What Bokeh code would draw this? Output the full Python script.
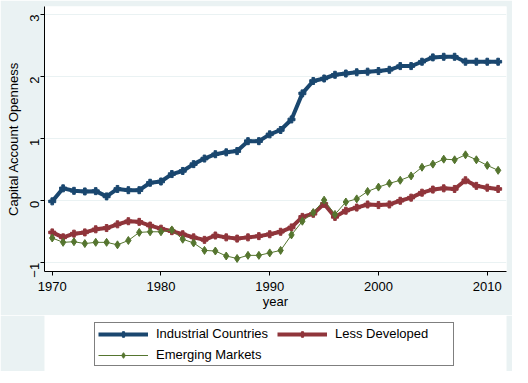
import math
from bokeh.plotting import figure
from bokeh.layouts import column
from bokeh.models import Legend, LegendItem, Range1d, FixedTicker
from bokeh.embed import file_html
from bokeh.resources import INLINE

years = list(range(1970, 2012))
industrial = [-0.01, 0.20, 0.16, 0.15, 0.155, 0.07, 0.19, 0.17, 0.17, 0.29,
              0.31, 0.43, 0.48, 0.59, 0.68, 0.75, 0.78, 0.80, 0.96, 0.96,
              1.07, 1.14, 1.31, 1.73, 1.93, 1.97, 2.03, 2.05, 2.07, 2.08,
              2.09, 2.11, 2.17, 2.17, 2.24, 2.31, 2.32, 2.32, 2.24, 2.24,
              2.24, 2.24]
less_developed = [-0.51, -0.59, -0.53, -0.51, -0.46, -0.44, -0.38, -0.33, -0.34, -0.40,
                  -0.45, -0.49, -0.54, -0.59, -0.63, -0.56, -0.59, -0.61, -0.59, -0.57,
                  -0.54, -0.50, -0.43, -0.26, -0.21, -0.05, -0.26, -0.16, -0.11, -0.06,
                  -0.07, -0.06, 0.00, 0.05, 0.13, 0.18, 0.20, 0.19, 0.33, 0.24,
                  0.21, 0.19]
emerging = [-0.60, -0.67, -0.66, -0.69, -0.67, -0.67, -0.71, -0.64, -0.51, -0.50,
            -0.50, -0.47, -0.62, -0.68, -0.80, -0.81, -0.89, -0.93, -0.88, -0.88,
            -0.84, -0.80, -0.55, -0.33, -0.19, 0.01, -0.22, -0.02, 0.03, 0.15,
            0.22, 0.28, 0.33, 0.40, 0.54, 0.59, 0.67, 0.66, 0.74, 0.66,
            0.57, 0.49]
series_names = ["Industrial Countries", "Less Developed", "Emerging Markets"]
x_ticks = [1970, 1980, 1990, 2000, 2010]
y_ticks = [-1, 0, 1, 2, 3]

FONT = "Liberation Sans"
BG = "#eaf2f3"
NAVY = "#1a476f"
MAROON = "#90353b"
OLIVE = "#55752f"


def add_series(fig):
    r = []
    r.append(fig.line(years, industrial, line_color=NAVY, line_width=4))
    r.append(fig.scatter(years, industrial, marker="plus", size=7, color=NAVY))
    r.append(fig.line(years, less_developed, line_color=MAROON, line_width=4))
    r.append(fig.scatter(years, less_developed, marker="plus", size=7, color=MAROON))
    r.append(fig.line(years, emerging, line_color=OLIVE, line_width=1))
    r.append(fig.scatter(years, emerging, marker="diamond", size=8, color=OLIVE))
    return r


# ---- main chart ----
p = figure(frame_width=462, frame_height=265, output_backend="svg",
           toolbar_location=None,
           x_range=Range1d(1969.29, 2011.77), y_range=Range1d(-1.14, 3.13),
           min_border_left=44, min_border_right=6, min_border_top=6, min_border_bottom=44)
p.background_fill_color = "white"
p.border_fill_color = BG
p.outline_line_color = None
add_series(p)

p.xaxis.ticker = FixedTicker(ticks=x_ticks)
p.yaxis.ticker = FixedTicker(ticks=y_ticks)
p.xgrid.grid_line_color = None
p.ygrid.grid_line_color = BG
p.ygrid.grid_line_width = 1

for ax in (p.xaxis[0], p.yaxis[0]):
    ax.axis_line_color = "black"
    ax.major_tick_line_color = "black"
    ax.minor_tick_line_color = None
    ax.major_tick_in = 0
    ax.major_tick_out = 4
    ax.major_label_standoff = 6
    ax.major_label_text_font = FONT
    ax.major_label_text_font_size = "13px"
    ax.major_label_text_color = "black"
    ax.axis_label_text_font = FONT
    ax.axis_label_text_font_size = "13px"
    ax.axis_label_text_font_style = "normal"
    ax.axis_label_text_color = "black"

p.xaxis.axis_label = "year"
p.xaxis.axis_label_standoff = 0
p.yaxis.axis_label = "Capital Account Openness"
p.yaxis.axis_label_standoff = 2
p.yaxis.major_label_orientation = math.pi / 2

# ---- legend strip: same series, ranges set so only the legend shows ----
lg = figure(frame_width=462, frame_height=56, output_backend="svg", toolbar_location=None,
            x_axis_type=None, y_axis_type=None,
            x_range=Range1d(0, 1), y_range=Range1d(0, 1),
            min_border_left=44, min_border_right=6, min_border_top=0, min_border_bottom=0)
lg.background_fill_color = None
lg.border_fill_color = BG
lg.outline_line_color = None
lg.xgrid.visible = False
lg.ygrid.visible = False
rs = add_series(lg)

legend = Legend(items=[
    LegendItem(label=series_names[0], renderers=[rs[0], rs[1]]),
    LegendItem(label=series_names[1], renderers=[rs[2], rs[3]]),
    LegendItem(label=series_names[2], renderers=[rs[4], rs[5]]),
], ncols=2, orientation="horizontal", location=(50, 5))
legend.label_text_font = FONT
legend.label_text_font_size = "13px"
legend.label_text_color = "black"
legend.glyph_width = 50
legend.glyph_height = 14
legend.label_height = 14
legend.label_width = 115
legend.label_standoff = 8
legend.spacing = 6
legend.padding = 3
legend.margin = 0
legend.border_line_color = "black"
legend.border_line_width = 1
legend.background_fill_color = "white"
legend.background_fill_alpha = 1
lg.add_layout(legend)

layout = column(p, lg, spacing=0)
open("out.html", "w").write(file_html(layout, INLINE))
